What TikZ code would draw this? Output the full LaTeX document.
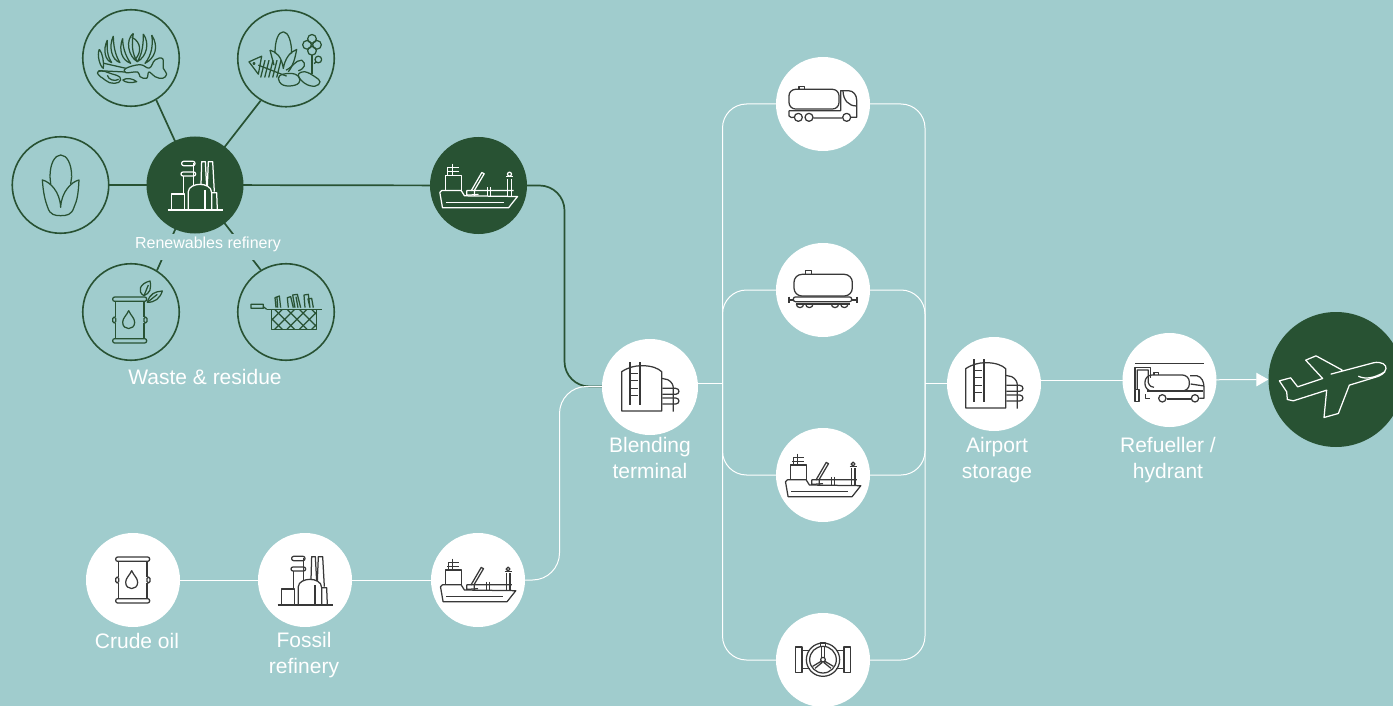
\documentclass[tikz,border=0pt]{standalone}
\usepackage{fontspec}
\setmainfont{Liberation Sans}
\usetikzlibrary{arrows.meta}
\definecolor{bgc}{HTML}{A0CCCD}
\definecolor{darkg}{HTML}{285233}
\definecolor{inkc}{HTML}{383838}
\pgfdeclarelayer{edges}
\pgfsetlayers{edges,main}
\tikzset{
  lightdisc/.style={circle,fill=white,inner sep=0pt,minimum size=94pt},
  darkdisc/.style={circle,fill=darkg,inner sep=0pt,minimum size=97pt},
  ringdisc/.style={circle,draw=darkg,line width=1.6pt,fill=bgc,inner sep=0pt,minimum size=96.5pt},
  whiteline/.style={draw=white,line width=1pt},
  darkline/.style={draw=darkg,line width=1.7pt},
  caption/.style={text=white,font=\fontsize{21}{25.5}\selectfont,align=center,inner sep=0pt},
  icon/.style={line width=1.25pt,line join=round},
  icoRefinery/.pic={\begin{scope}[scale=0.3333,shift={(-585,-555)}]
    \draw (503,630)--(668,630);
    \draw (515,630)--(515,582)--(553,582)--(553,630);
    \draw (550,582)--(550,528) (580,555)--(580,490);
    \draw[rounded corners=2pt] (545,484) rectangle (585,497);
    \draw[rounded corners=2pt] (543,516) rectangle (587,528);
    \draw (565,630)--(565,575) .. controls (565,560) and (585,553) .. (600,553) .. controls (615,553) and (635,560) .. (635,578)--(635,630);
    \draw (635,578)--(650,578)--(652,630);
    \draw (603,555)--(605,485)--(616,485)--(620,558);
    \draw (622,558)--(625,485)--(638,485)--(643,575);
    \draw (615,570)--(615,630);
  \end{scope}},
  icoShip/.pic={\begin{scope}[scale=0.3333,shift={(-160,-166)}]
    \draw (44,187)--(52,233)--(250,233)--(277,199)--(118,197)--(108,181)--(50,181)--cycle;
    \draw (62,217)--(237,217);
    \draw (60,181)--(60,135)--(108,135)--(108,181);
    \draw (68,135)--(68,112)--(100,112) (65,125)--(100,125) (82,100)--(82,135);
    \draw (138,182)--(170,127)--(177,131)--(148,180)--(148,197);
    \draw (125,181)--(265,181) (125,181)--(125,195)--(160,193);
    \draw (186,172)--(186,197) (195,172)--(195,197);
    \draw (248,145)--(248,197) (259,145)--(259,197);
    \draw (253,132) circle (6);
    \draw (242,140)--(264,140);
  \end{scope}},
  icoTank/.pic={\begin{scope}[scale=0.3333,shift={(-675,-771)}]
    \draw (590,843)--(590,725) .. controls (610,712) and (630,707) .. (650,707) .. controls (680,707) and (700,715) .. (710,725)--(710,843)--cycle;
    \draw (615,697)--(615,825) (645,697)--(645,825);
    \foreach \yy in {730,752,775,797} {\draw (615,\yy)--(640,\yy);}
    \draw (710,745)--(728,749) .. controls (740,755) and (745,765) .. (745,775)--(745,845);
    \draw (712,775)--(752,775) .. controls (765,775) and (765,793) .. (752,793)--(712,793);
    \draw (712,804)--(752,804) .. controls (765,804) and (765,822) .. (752,822)--(712,822);
  \end{scope}},
  icoBarrel/.pic={\begin{scope}[scale=0.3333,shift={(-160,-166)}]
    \draw[rounded corners=2pt] (108,97) rectangle (210,110);
    \draw[rounded corners=2pt] (108,222) rectangle (210,235);
    \draw (117,110)--(117,157) (117,175)--(117,222);
    \draw (202,110)--(202,157) (202,175)--(202,222);
    \draw[rounded corners=1.5pt] (108,157) rectangle (117,175);
    \draw[rounded corners=1.5pt] (202,157) rectangle (211,175);
    \draw (156,138) .. controls (150,152) and (138,160) .. (138,173) .. controls (138,198) and (174,198) .. (174,173) .. controls (174,160) and (162,152) .. (156,138)--cycle;
  \end{scope}},
  icoLeaves/.pic={\begin{scope}[scale=0.3333,shift={(-183,-261)}]
    \draw (222,212) .. controls (200,200) and (210,175) .. (240,168) .. controls (245,190) and (240,205) .. (222,212)--cycle;
    \draw (222,212)--(235,180);
    \draw (232,232) .. controls (240,205) and (255,200) .. (277,198) .. controls (270,220) and (255,232) .. (232,232)--cycle;
    \draw (232,232)--(262,208);
  \end{scope}},
  icoCorn/.pic={\begin{scope}[scale=0.3333,shift={(-181.5,-555)}]
    \draw (150,530) .. controls (150,490) and (165,465) .. (182,465) .. controls (200,465) and (215,490) .. (215,530);
    \draw (127,540) .. controls (150,545) and (180,575) .. (182,622) .. controls (184,575) and (215,545) .. (237,540) .. controls (235,580) and (232,600) .. (222,622) .. controls (215,645) and (200,647) .. (182,647) .. controls (165,647) and (150,645) .. (143,622) .. controls (135,600) and (130,580) .. (127,540)--cycle;
    \draw (150,530)--(152,552) (215,530)--(212,552);
  \end{scope}},
  icoAlgae/.pic={\begin{scope}[scale=0.3333,shift={(-393,-174)}]
    \draw (322,120) .. controls (308,150) and (315,180) .. (335,188) .. controls (322,170) and (320,145) .. (322,120);
    \draw (340,108) .. controls (325,140) and (335,180) .. (360,188) .. controls (345,165) and (340,135) .. (340,108);
    \draw (368,115) .. controls (355,150) and (365,180) .. (392,190) .. controls (375,165) and (368,140) .. (368,115);
    \draw (400,100) .. controls (375,120) and (385,170) .. (412,185) .. controls (395,160) and (395,130) .. (400,100);
    \draw (430,102) .. controls (450,130) and (440,170) .. (412,185) .. controls (428,160) and (430,130) .. (430,102);
    \draw (455,105) .. controls (478,140) and (465,175) .. (435,190) .. controls (455,165) and (460,135) .. (455,105);
    \draw (395,112) .. controls (425,125) and (425,160) .. (405,178);
    \draw (298,148) .. controls (290,165) and (300,200) .. (310,205) .. controls (312,185) and (308,160) .. (298,148);
    \draw (312,190)--(378,205) (295,212)--(375,216);
    \draw plot[smooth cycle,tension=.7] coordinates {(378,205) (420,194) (448,204) (465,180) (488,176) (490,205) (500,222) (488,235) (465,230) (447,216) (440,235) (420,230) (413,216) (378,218)};
    \draw (292,220) .. controls (290,212) and (310,210) .. (325,218) .. controls (340,225) and (365,225) .. (362,240) .. controls (360,252) and (330,255) .. (315,240) .. controls (305,230) and (295,230) .. (292,220);
    \draw (322,226) .. controls (325,240) and (345,245) .. (356,238);
    \draw (368,240) .. controls (380,232) and (400,236) .. (410,245) .. controls (395,250) and (375,248) .. (368,240);
  \end{scope}},
  icoMix/.pic={\begin{scope}[scale=0.3333,shift={(-858,-175)}]
    \draw (825,160) .. controls (825,120) and (835,95) .. (850,95) .. controls (865,95) and (875,125) .. (875,160);
    \draw (810,150) .. controls (830,155) and (845,170) .. (850,205) .. controls (855,175) and (870,155) .. (890,148) .. controls (885,175) and (880,195) .. (865,215);
    \draw (810,150)--(822,195);
    \draw (936,116) circle (13) (921,134) circle (13) (951,134) circle (13) (936,152) circle (13);
    \draw (936,165)--(936,222);
    \draw (955,178) circle (10) (942,190)--(950,185);
    \draw (747,185)--(785,168)--(775,222)--cycle;
    \draw (762,190) circle (3);
    \draw (775,195)--(860,228);
    \foreach \rx in {790,802,814,826,838} {\draw (\rx+5,180)--(\rx-8,232);}
    \draw plot[smooth cycle,tension=.7] coordinates {(835,235) (850,222) (885,222) (900,240) (885,255) (850,255)};
    \draw plot[smooth cycle,tension=.7] coordinates {(895,225) (915,215) (945,230) (960,245) (945,258) (915,250)};
    \draw (858,210) .. controls (880,200) and (885,180) .. (905,180) .. controls (920,190) and (915,205) .. (895,212);
  \end{scope}},
  icoFryer/.pic={\begin{scope}[scale=0.3333,shift={(-648,-261)}]
    \draw (590,253)--(755,253);
    \draw (543,238) rectangle (580,250) (580,245)--(590,253);
    \draw (605,253) rectangle (740,313);
    \begin{scope}
      \clip (605,253) rectangle (740,313);
      \foreach \hx in {540,577,614,651,688,725} {\draw (\hx,253)--(\hx+60,313) (\hx+60,253)--(\hx,313);}
    \end{scope}
    \draw (618,248)--(615,218)--(628,213)--(632,248) (623,248)--(621,218);
    \draw (655,248)--(652,218)--(662,215)--(670,248) (675,248)--(668,210)--(682,208)--(692,248) (678,215)--(684,248);
    \draw (705,248)--(702,210)--(715,208)--(720,248) (720,248)--(714,222)--(725,220)--(730,248);
  \end{scope}},
  icoTruck/.pic={\begin{scope}[scale=0.3333,shift={(-324,-162)}]
    \draw[rounded corners=6.5pt] (222,118) rectangle (372,177);
    \draw (252,118)--(252,110)--(268,110)--(268,118);
    \draw (222,182)--(377,182)--(377,122)--(400,122) .. controls (415,122) and (425,135) .. (425,150)--(425,202)--(408,202);
    \draw (384,123) .. controls (385,150) and (400,168) .. (425,168);
    \draw (295,204)--(382,204) (222,182)--(222,198) .. controls (224,203) and (232,203) .. (238,202);
    \draw (250,202) circle (12) (282,202) circle (12) (395,202) circle (12);
  \end{scope}},
  icoRail/.pic={\begin{scope}[scale=0.3333,shift={(-324,-720)}]
    \draw[rounded corners=8pt] (237,673) rectangle (412,738);
    \draw (272,673)--(272,662)--(290,662)--(290,673);
    \draw[rounded corners=2pt] (235,741) rectangle (410,755);
    \draw (222,750)--(235,750) (222,740)--(222,760) (410,750)--(426,750) (426,740)--(426,760);
    \draw (243,762)--(405,762);
    \foreach \wx in {255,283,360,388} {\draw (\wx-11,762) arc (180:0:11);}
  \end{scope}},
  icoValve/.pic={\begin{scope}[scale=0.3333,shift={(-324,-723)}]
    \draw (241,684) rectangle (261,760) (387,684) rectangle (407,760);
    \draw (261,695)--(285,695) (261,748)--(285,748) (363,695)--(387,695) (363,748)--(387,748);
    \draw (324,722) circle (50) (324,722) circle (40);
    \draw (324,722) circle (7);
    \draw (319,684)--(319,716) (329,684)--(329,716);
    \draw (318,727)--(293,742) (322,730)--(300,748);
    \draw (330,727)--(355,742) (326,730)--(348,748);
    \draw (316,672) rectangle (332,682);
  \end{scope}},
  icoRefuel/.pic={\begin{scope}[scale=0.3333,shift={(-688.5,-210)}]
    \draw[line width=1.6pt] (585,160)--(792,160);
    \draw (585,238)--(585,172)--(632,172)--(632,205);
    \draw (592,238)--(592,180)--(625,180)--(625,218) .. controls (628,228) and (635,232) .. (642,232);
    \draw (585,238) rectangle (597,275);
    \draw[rounded corners=7pt] (615,195) rectangle (748,243);
    \draw (642,195)--(642,187)--(656,187)--(656,195);
    \draw (750,197)--(770,197) .. controls (785,200) and (792,215) .. (792,232)--(792,265)--(778,265);
    \draw (752,222)--(792,228);
    \draw (680,267)--(752,267) (622,243)--(790,243);
    \draw (617,253)--(617,265)--(630,265);
    \draw (667,265) circle (11) (765,265) circle (11);
  \end{scope}},
  icoPlane/.pic={\begin{scope}[scale=0.3333,shift={(-1188,-208)}]
    \draw (1172,192)--(1300,158) .. controls (1325,152) and (1340,165) .. (1338,175) .. controls (1335,190) and (1320,197) .. (1310,200)--(1228,225)--(1195,310)--(1152,322)--(1160,240)--(1060,272)--(1042,268)--(1040,245)--(1018,212)--(1052,203)--(1073,230)--(1148,205)--(1097,150)--(1128,137)--(1207,180);
    \draw (1255,198) .. controls (1275,208) and (1300,205) .. (1335,185);
  \end{scope}},
}
\begin{document}
\begin{tikzpicture}[x=1pt,y=-1pt]
\useasboundingbox (0,0) rectangle (1393,706);
% nodes
\node[ringdisc] (algae) at (131,58) {};
\node[ringdisc] (mix) at (286,58.5) {};
\node[ringdisc] (corn) at (60.5,185) {};
\node[ringdisc] (oilleaf) at (131,312) {};
\node[ringdisc] (fryer) at (286,312) {};
\node[darkdisc] (renew) at (195,185) {};
\node[darkdisc] (shipA) at (478.5,185.5) {};
\node[lightdisc,minimum size=96pt] (blend) at (650,387) {};
\node[lightdisc] (truck) at (823,104) {};
\node[lightdisc] (rail) at (823,290) {};
\node[lightdisc] (shipC) at (823,475) {};
\node[lightdisc] (valve) at (823,660) {};
\node[lightdisc] (airport) at (994,384) {};
\node[lightdisc] (refuel) at (1169.5,380) {};
\node[circle,fill=darkg,inner sep=0pt,minimum size=135pt] (plane) at (1336,379.5) {};
\node[lightdisc] (crude) at (133,580) {};
\node[lightdisc] (fossil) at (305,580) {};
\node[lightdisc] (shipB) at (478,580) {};
% labels
\node[anchor=north,fill=bgc,inner xsep=0pt,inner ysep=0pt,minimum width=152pt,text height=14.5pt,text depth=12pt,text=white,font=\fontsize{16}{19}\selectfont] (renewlabel) at (208,233.5) {Renewables refinery};
\node[caption] (wastelabel) at (205,377) {Waste \& residue};
\node[caption] (crudelabel) at (137,641) {Crude oil};
\node[caption] (fossillabel) at (304,655) {Fossil\\refinery};
\node[caption] (blendlabel) at (650,458) {Blending\\terminal};
\node[caption] (airportlabel) at (997,460) {Airport\\storage};
\node[caption] (refuellabel) at (1168,460) {Refueller /\\hydrant};
% icons
\pic[icon,color=white] at (renew.center) {icoRefinery};
\pic[icon,color=white] at (shipA.center) {icoShip};
\pic[icon,color=inkc] at (fossil.center) {icoRefinery};
\pic[icon,color=inkc,scale=0.97] at (shipB.center) {icoShip};
\pic[icon,color=inkc,scale=0.97] at (shipC.center) {icoShip};
\pic[icon,color=inkc] at (blend.center) {icoTank};
\pic[icon,color=inkc] at (airport.center) {icoTank};
\pic[icon,color=inkc] at (crude.center) {icoBarrel};
\pic[icon,color=darkg] at ([shift={(-1,8)}]oilleaf.center) {icoBarrel};
\pic[icon,color=darkg] at (oilleaf.center) {icoLeaves};
\pic[icon,color=darkg] at (corn.center) {icoCorn};
\pic[icon,color=darkg] at (algae.center) {icoAlgae};
\pic[icon,color=darkg] at (mix.center) {icoMix};
\pic[icon,color=darkg] at (fryer.center) {icoFryer};
\pic[icon,color=inkc] at (truck.center) {icoTruck};
\pic[icon,color=inkc] at (rail.center) {icoRail};
\pic[icon,color=inkc] at (valve.center) {icoValve};
\pic[icon,color=inkc] at (refuel.center) {icoRefuel};
\pic[icon,color=white] at (plane.center) {icoPlane};
% connectors
\coordinate (darkbend) at (564.5,280);
\coordinate (whitebend) at (559.5,480);
\coordinate (busL) at (722.5,383);
\coordinate (busR) at (925,383);
\coordinate (blendout) at (650,383);
\coordinate (airportin) at (994,383);
\coordinate (airportout) at (994,380);
\coordinate (blendin) at (650,386.5);
\begin{pgfonlayer}{edges}
\fill[bgc] (0,0) rectangle (1393,706);
\draw[darkline] (algae.-59)--(renew.center);
\draw[darkline] (mix.-121)--(renew.center);
\draw[darkline] (oilleaf.58)--(renew.center);
\draw[darkline] (fryer.121)--(renew.center);
\draw[darkline] (corn.center)--(renew.center);
\draw[darkline] (renew.center)--(shipA.center);
\draw[darkline,rounded corners=25pt] (shipA.center) -| (darkbend) |- (blendin);
\draw[whiteline,rounded corners=27pt] (shipB.center) -| (whitebend) |- (blendin);
\draw[whiteline] (crude.center)--(fossil.center);
\draw[whiteline] (fossil.center)--(shipB.center);
\draw[whiteline] (blendout)--(busL);
\draw[whiteline,rounded corners=24pt] (truck.center) -| (busL) |- (valve.center);
\draw[whiteline,rounded corners=24pt] (rail.center) -| (busL) |- (shipC.center);
\draw[whiteline,rounded corners=24pt] (truck.center) -| (busR) |- (valve.center);
\draw[whiteline,rounded corners=24pt] (rail.center) -| (busR) |- (shipC.center);
\draw[whiteline] (busR)--(airportin);
\draw[whiteline] (airportout)--(refuel.center);
\draw[whiteline,-{Triangle[length=12pt,width=13.5pt]}] (refuel.center)--(plane.west);
\end{pgfonlayer}
\end{tikzpicture}
\end{document}
